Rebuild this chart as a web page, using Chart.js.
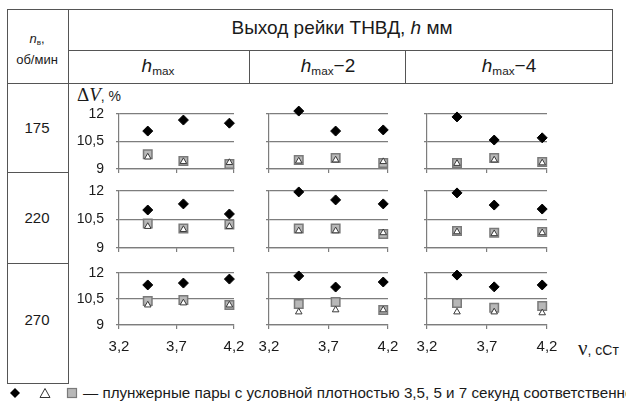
<!DOCTYPE html>
<html>
<head>
<meta charset="utf-8">
<script src="https://cdn.jsdelivr.net/npm/chart.js@4"></script>
<style>
  html, body { margin: 0; padding: 0; background: #fff; }
  #page { position: relative; width: 626px; height: 404px; overflow: hidden; font-family: "Liberation Sans", Arial, sans-serif; color: #1a1a1a; }
  .ln { position: absolute; background: #555; }
  .t { position: absolute; white-space: nowrap; }
  .c { transform: translateX(-50%); text-align: center; }
  canvas { position: absolute; }
  sub { font-size: 62%; vertical-align: -0.25em; font-style: normal; }
</style>
</head>
<body>
<div id="page"></div>
<script>
// Viscosity of the fuel, cSt (x positions of the three test points)
const viscosity = [3.45, 3.76, 4.16];
const xTicks = [3.2, 3.7, 4.2];
const yTicks = [9, 10.5, 12];
const speeds = ['175', '220', '270'];
const rackPositions = ['h<sub>max</sub>', 'h<sub>max</sub>−2', 'h<sub>max</sub>−4'];

// Cycle delivery deviation ΔV, %; each row: [h_max, h_max−2, h_max−4]
// plunger pairs of 3.5 s density (diamonds)
const dens35_175 = [[11.07, 11.67, 11.5], [12.16, 11.07, 11.13], [11.84, 10.58, 10.7]];
const dens35_220 = [[11.0, 11.32, 10.79], [11.95, 11.53, 11.32], [11.9, 11.26, 11.05]];
const dens35_270 = [[11.31, 11.42, 11.65], [11.83, 11.19, 11.48], [11.88, 11.2, 11.31]];
// plunger pairs of 5 s density (triangles)
const dens5_175 = [[9.65, 9.4, 9.35], [9.43, 9.49, 9.4], [9.3, 9.49, 9.33]];
const dens5_220 = [[10.13, 9.97, 10.13], [9.9, 9.9, 9.8], [9.85, 9.75, 9.8]];
const dens5_270 = [[10.15, 10.27, 10.15], [9.75, 9.87, 9.87], [9.75, 9.75, 9.7]];
// plunger pairs of 7 s density (squares)
const dens7_175 = [[9.81, 9.43, 9.27], [9.49, 9.6, 9.33], [9.33, 9.6, 9.38]];
const dens7_220 = [[10.29, 10.03, 10.24], [10.03, 10.03, 9.74], [9.9, 9.8, 9.84]];
const dens7_270 = [[10.38, 10.44, 10.15], [10.21, 10.33, 9.87], [10.27, 10.0, 10.1]];

const seriesDiamond = [dens35_175, dens35_220, dens35_270];
const seriesTriangle = [dens5_175, dens5_220, dens5_270];
const seriesSquare = [dens7_175, dens7_220, dens7_270];

const page = document.getElementById('page');

function line(x, y, w, h) {
  const d = document.createElement('div');
  d.className = 'ln';
  Object.assign(d.style, { left: x + 'px', top: y + 'px', width: w + 'px', height: h + 'px' });
  page.appendChild(d);
}
function text(html, x, y, css, center) {
  const d = document.createElement('div');
  d.className = 't' + (center ? ' c' : '');
  d.innerHTML = html;
  Object.assign(d.style, { left: x + 'px', top: y + 'px' }, css || {});
  page.appendChild(d);
  return d;
}

// Table frame
line(7, 9, 606, 1);       // top
line(7, 9, 1, 375);       // left
line(612, 9, 1, 75);      // right
line(68, 9, 1, 375);      // first column divider
line(68, 50, 545, 1);     // header split
line(7, 83, 606, 1);      // header bottom
line(249, 50, 1, 34);
line(405, 50, 1, 34);
line(7, 172, 61, 1);
line(7, 263, 61, 1);
line(7, 383, 62, 1);

// Header texts
text('Выход рейки ТНВД, <i>h</i> мм', 342, 17, { fontSize: '19px' }, true);
const colCenters = [158, 328, 509];
rackPositions.forEach((r, i) => {
  text('<i>' + r.replace('h<sub>', 'h</i><sub>'), colCenters[i], 55, { fontSize: '19px' }, true);
});
text('<i>n</i><sub>в</sub>,', 37, 31, { fontSize: '13px' }, true);
text('об/мин', 37, 52, { fontSize: '13px' }, true);
const rowLabelY = [119, 209, 311];
speeds.forEach((s, i) => text(s, 37, rowLabelY[i], { fontSize: '15px' }, true));

// Axis titles
text('<span style="font-family:\'Liberation Serif\',serif;font-size:19px">Δ<i>V</i></span>, %', 77, 84, { fontSize: '14px' });
text('<span style="font-family:\'Liberation Serif\',serif;font-size:21px">ν</span>, сСт', 578, 336, { fontSize: '14px' });

// Plot areas of the nine panels
const plotCols = [[119, 234], [269, 388], [427, 547]];
const plotRows = [[114, 169], [191, 248], [273, 325]];
const PAD_L = 50, PAD_T = 10, PAD_R = 10, PAD_B = 30;
const gridColor = '#7d7d7d';
const fmt = v => String(Math.round(v * 10) / 10).replace('.', ',');

function makePanel(r, c) {
  const [x0, x1] = plotCols[c];
  const [y0, y1] = plotRows[r];
  const w = x1 - x0 + PAD_L + PAD_R;
  const h = y1 - y0 + PAD_T + PAD_B;
  const cv = document.createElement('canvas');
  cv.width = w; cv.height = h;
  Object.assign(cv.style, { left: (x0 - PAD_L) + 'px', top: (y0 - PAD_T) + 'px', width: w + 'px', height: h + 'px' });
  page.appendChild(cv);

  const pts = arr => arr.map((v, i) => ({ x: viscosity[i], y: v }));
  new Chart(cv, {
    type: 'scatter',
    data: {
      datasets: [
        { data: pts(seriesDiamond[r][c]), pointStyle: 'rectRot', radius: 5, backgroundColor: '#000', borderColor: '#000', borderWidth: 1 },
        { data: pts(seriesTriangle[r][c]), pointStyle: 'triangle', radius: 3.8, backgroundColor: '#fff', borderColor: '#3a3a3a', borderWidth: 1 },
        { data: pts(seriesSquare[r][c]), pointStyle: 'rect', radius: 6, backgroundColor: '#b8b8b8', borderColor: '#7a7a7a', borderWidth: 1.5 }
      ]
    },
    options: {
      responsive: false,
      animation: false,
      devicePixelRatio: 1,
      clip: false,
      layout: { padding: { left: 0, top: PAD_T, right: PAD_R, bottom: 0 } },
      plugins: { legend: { display: false }, tooltip: { enabled: false } },
      scales: {
        x: {
          type: 'linear', min: xTicks[0], max: xTicks[xTicks.length - 1],
          afterBuildTicks: s => { s.ticks = xTicks.map(v => ({ value: v })); },
          afterFit: s => { s.height = PAD_B; s.paddingLeft = 0; s.paddingRight = 0; },
          grid: { drawOnChartArea: false, color: gridColor, tickLength: 4, lineWidth: 1.2 },
          border: { display: true, color: gridColor, width: 1.2 },
          ticks: { display: r === 2, padding: 9, color: '#1a1a1a', font: { family: 'Liberation Sans', size: 15 }, callback: v => fmt(v), maxRotation: 0 }
        },
        y: {
          type: 'linear', min: yTicks[0], max: yTicks[yTicks.length - 1],
          afterBuildTicks: s => { s.ticks = yTicks.map(v => ({ value: v })); },
          afterFit: s => { s.width = PAD_L; s.paddingTop = 0; s.paddingBottom = 0; },
          grid: { color: gridColor, tickLength: 3, lineWidth: 1.2 },
          border: { display: true, color: gridColor, width: 1.2 },
          ticks: { display: c === 0, padding: 12, color: '#1a1a1a', font: { family: 'Liberation Sans', size: 14 }, callback: v => fmt(v) }
        }
      }
    }
  });
}
for (let r = 0; r < 3; r++) for (let c = 0; c < 3; c++) makePanel(r, c);

// Legend line under the table
text(
  '<svg width="80" height="14" style="vertical-align:-2px">' +
  '<polygon points="15,2 20,7 15,12 10,7" fill="#000"/>' +
  '<polygon points="45,2.5 50,11.5 40,11.5" fill="#fff" stroke="#333" stroke-width="1"/>' +
  '<rect x="67.5" y="2.5" width="9" height="9" fill="#b8b8b8" stroke="#7a7a7a" stroke-width="1.2"/>' +
  '</svg>' +
  '<span style="margin-left:3px">— плунжерные пары с условной плотностью 3,5, 5 и 7 секунд соответственно</span>',
  0, 384, { fontSize: '15.2px' });
</script>
</body>
</html>
